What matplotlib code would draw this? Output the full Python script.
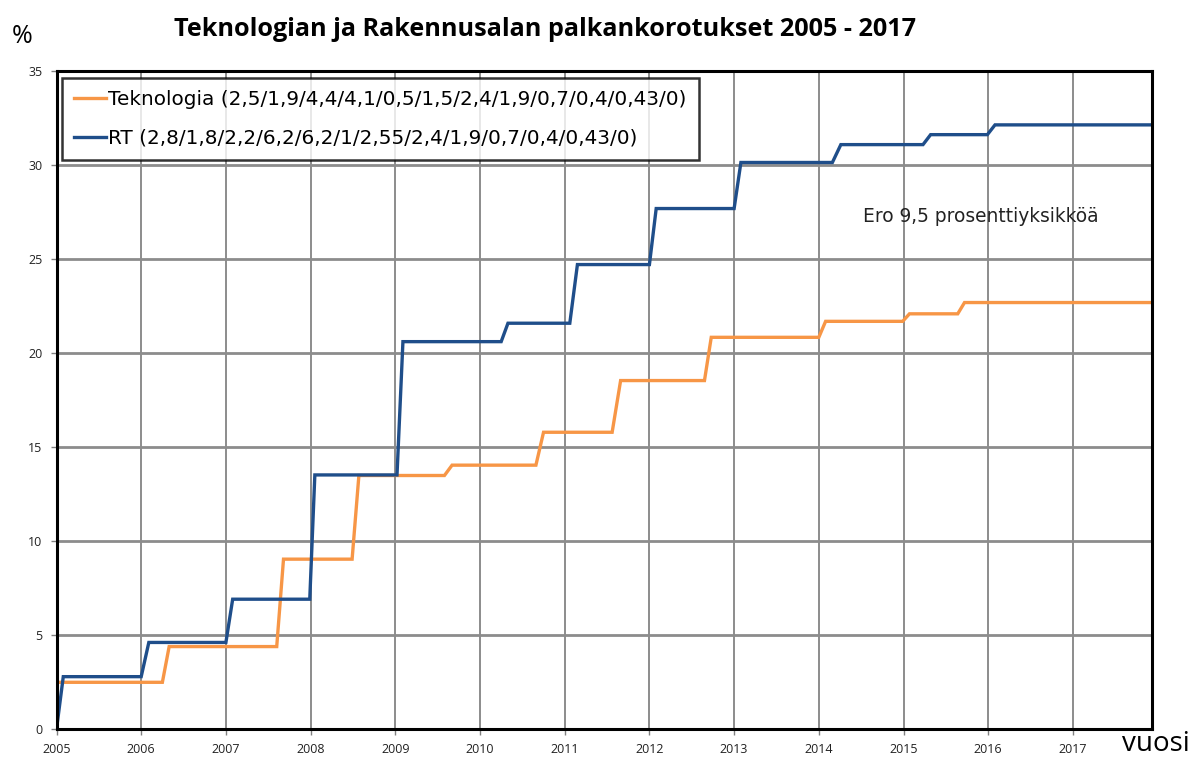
import matplotlib
matplotlib.use("Agg")
import matplotlib.pyplot as plt
from matplotlib.lines import Line2D

# ---- data ----
years = list(range(2005, 2018))
yticks = [0, 5, 10, 15, 20, 25, 30, 35]

tek_label = "Teknologia (2,5/1,9/4,4/4,1/0,5/1,5/2,4/1,9/0,7/0,4/0,43/0)"
tek_levels = [2.5, 4.4, 9.05, 13.5, 14.05, 15.8, 18.55, 20.85, 21.7, 22.1, 22.7]
tek_rise_start = [2006.25, 2007.60, 2008.49, 2009.58, 2010.66, 2011.56, 2012.65, 2014.00, 2014.99, 2015.64]
tek_rise_end = [2006.33, 2007.68, 2008.57, 2009.67, 2010.75, 2011.66, 2012.73, 2014.08, 2015.07, 2015.72]

rt_label = "RT (2,8/1,8/2,2/6,2/6,2/1/2,55/2,4/1,9/0,7/0,4/0,43/0)"
rt_levels = [0, 2.8, 4.62, 6.92, 13.53, 20.62, 21.6, 24.72, 27.7, 30.15, 31.1, 31.63, 32.15]
rt_rise_start = [2005.0, 2006.0, 2007.0, 2007.99, 2009.02, 2010.25, 2011.06, 2012.0, 2013.0, 2014.16, 2015.23, 2015.99]
rt_rise_end = [2005.08, 2006.09, 2007.08, 2008.05, 2009.09, 2010.33, 2011.15, 2012.08, 2013.08, 2014.26, 2015.32, 2016.08]

x_start = 2005.0
x_end = 2017.93


def step_path(levels, rs, re):
    xs = [x_start]
    ys = [levels[0]]
    for i in range(len(rs)):
        xs += [rs[i], re[i]]
        ys += [levels[i], levels[i + 1]]
    xs.append(x_end)
    ys.append(levels[-1])
    return xs, ys


plt.rcParams['font.family'] = ['Open Sans', 'DejaVu Sans']

fig = plt.figure(figsize=(12.03, 7.6), dpi=100)
ax = fig.add_axes([56.5 / 1203, 1 - 729.3 / 760, (1151.7 - 56.5) / 1203, (729.3 - 71.3) / 760])

orange = "#F79646"
blue = "#1F4E8A"

tx, ty = step_path(tek_levels, tek_rise_start, tek_rise_end)
rx, ry = step_path(rt_levels, rt_rise_start, rt_rise_end)
ax.plot(tx, ty, color=orange, lw=2.4, solid_joinstyle='miter', zorder=3)
ax.plot(rx, ry, color=blue, lw=2.4, solid_joinstyle='miter', zorder=4)

ax.set_xlim(x_start, x_end)
ax.set_ylim(0, 35)
ax.set_xticks(years)
ax.set_xticklabels([str(y) for y in years], fontsize=9, color="#222222",
                   family=['Liberation Sans Narrow', 'Open Sans'])
ax.set_yticks(yticks)
ax.set_yticklabels([str(v) for v in yticks], fontsize=9, color="#222222",
                   family=['Liberation Sans Narrow', 'Open Sans'])
ax.tick_params(axis='both', direction='out', length=4, width=1, color="#808080", pad=6)

for v in yticks:
    ax.axhline(v, color="#8c8c8c", lw=2.0, zorder=1)
for y in years:
    ax.axvline(y, color="#8c8c8c", lw=1.4, zorder=1)

for s in ax.spines.values():
    s.set_color("black")
    s.set_linewidth(2.2)
    s.set_zorder(5)

handles = [Line2D([0], [0], color=orange, lw=2.4), Line2D([0], [0], color=blue, lw=2.4)]
leg = ax.legend(handles, [tek_label, rt_label], loc='upper left',
                bbox_to_anchor=(0.005, 0.99),
                prop={'family': 'DejaVu Sans', 'size': 14.4},
                frameon=True, fancybox=False,
                edgecolor='black', handlelength=1.6, handletextpad=0.12, labelspacing=1.0,
                borderpad=0.6, borderaxespad=0.0)
leg.get_frame().set_linewidth(1.8)
leg.set_zorder(6)

ax.text(2015.91, 27.3, "Ero 9,5 prosenttiyksikköä", fontsize=13.4, family='DejaVu Sans',
        ha='center', va='center', color="#222222")

fig.text(0.453, 0.961, "Teknologian ja Rakennusalan palkankorotukset 2005 - 2017",
         fontsize=18.2, fontweight='bold', ha='center', va='center')
fig.text(0.018, 0.952, "%", fontsize=18, ha='center', va='center')
fig.text(0.961, 0.021, "vuosi", fontsize=20, ha='center', va='center')

fig.savefig("out.png", dpi=100)
